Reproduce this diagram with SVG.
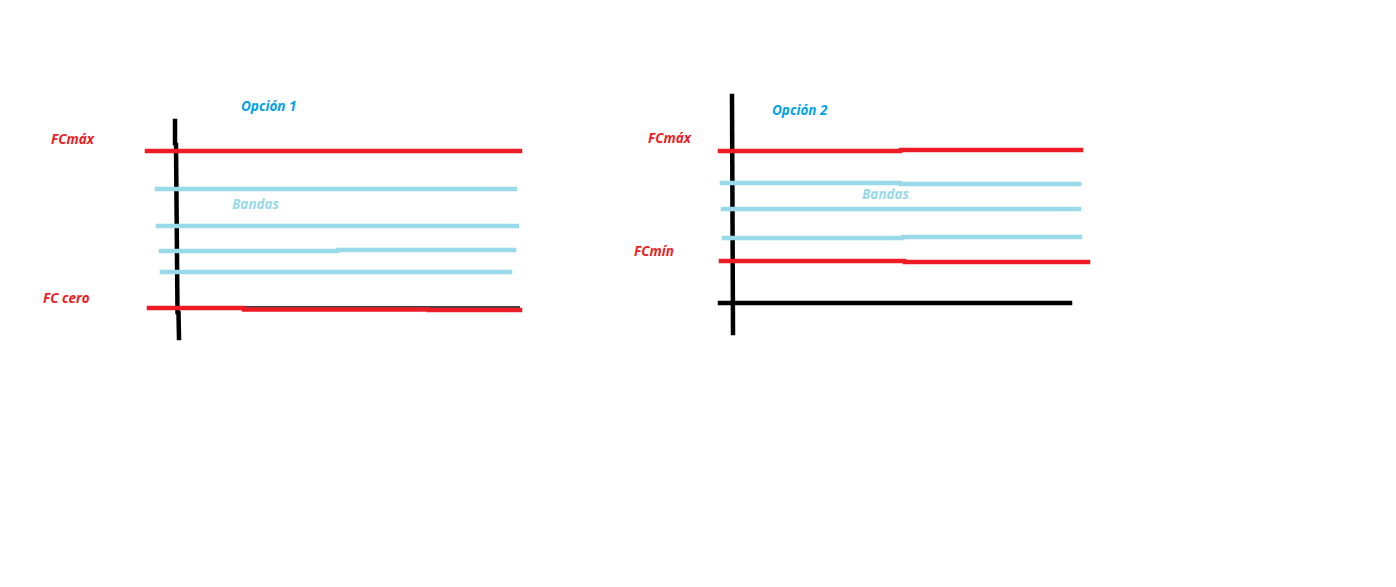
<svg xmlns="http://www.w3.org/2000/svg" width="1396" height="587" viewBox="0 0 1396 587">
<style>
.ax{stroke:#000;stroke-width:4.5;fill:none;stroke-linecap:square}
.r{stroke:#ED1C24;stroke-width:4.5;fill:none;stroke-linecap:square}
.b{stroke:#99D9EA;stroke-width:4.5;fill:none;stroke-linecap:square}
.thin{stroke:#000;stroke-width:1.5;fill:none}
text{font-family:"Open Sans","DejaVu Sans",sans-serif;font-weight:bold;font-style:italic;font-size:13.5px}
.tr{fill:#ED1C24}.tb{fill:#00A2E8}.tl{fill:#99D9EA}
</style>
<rect width="1396" height="587" fill="#fff"/>
<g id="opcion1">
  <g id="axis1">
    <path class="ax" d="M175 121 L175 143 M176 145 L177.5 312 M178.5 313 L179 338"/>
  </g>
  <g id="fcmax1">
    <path class="r" d="M147 151 L520 151"/>
  </g>
  <g id="bandas1">
    <path class="b" d="M157 189 L515 189"/>
    <path class="b" d="M158 226 L517 226"/>
    <path class="b" d="M161 251 L337 251 M338 250 L514 250"/>
    <path class="b" d="M162 272 L510 272"/>
  </g>
  <g id="fccero1">
    <path class="thin" d="M148 307 L520 307"/>
    <path class="r" d="M149 308 L243 308 M244 309.5 L428 309.5 M429 310 L520 310"/>
  </g>
  <g id="labels1">
    <text class="tb" x="241" y="111">Opción 1</text>
    <text class="tr" x="51" y="144">FCmáx</text>
    <text class="tl" x="232" y="209">Bandas</text>
    <text class="tr" x="43" y="303">FC cero</text>
  </g>
</g>
<g id="opcion2">
  <g id="axis2">
    <path class="ax" d="M732 96 L733 333"/>
  </g>
  <g id="fcmax2">
    <path class="r" d="M720 151 L900 151 M901 150 L1081 150"/>
  </g>
  <g id="bandas2">
    <path class="b" d="M722 183 L900 183 M901 184 L1079 184"/>
    <path class="b" d="M723 209 L1079 209"/>
    <path class="b" d="M724 238 L902 238 M903 237 L1080 237"/>
  </g>
  <g id="fcmin2">
    <path class="r" d="M721 261 L904 261 M905 262 L1088 262"/>
  </g>
  <g id="xaxis2">
    <path class="ax" d="M720 303 L1070 303"/>
  </g>
  <g id="labels2">
    <text class="tb" x="772" y="115">Opción 2</text>
    <text class="tr" x="648" y="143">FCmáx</text>
    <text class="tl" x="862" y="199">Bandas</text>
    <text class="tr" x="634" y="256">FCmín</text>
  </g>
</g>
</svg>
